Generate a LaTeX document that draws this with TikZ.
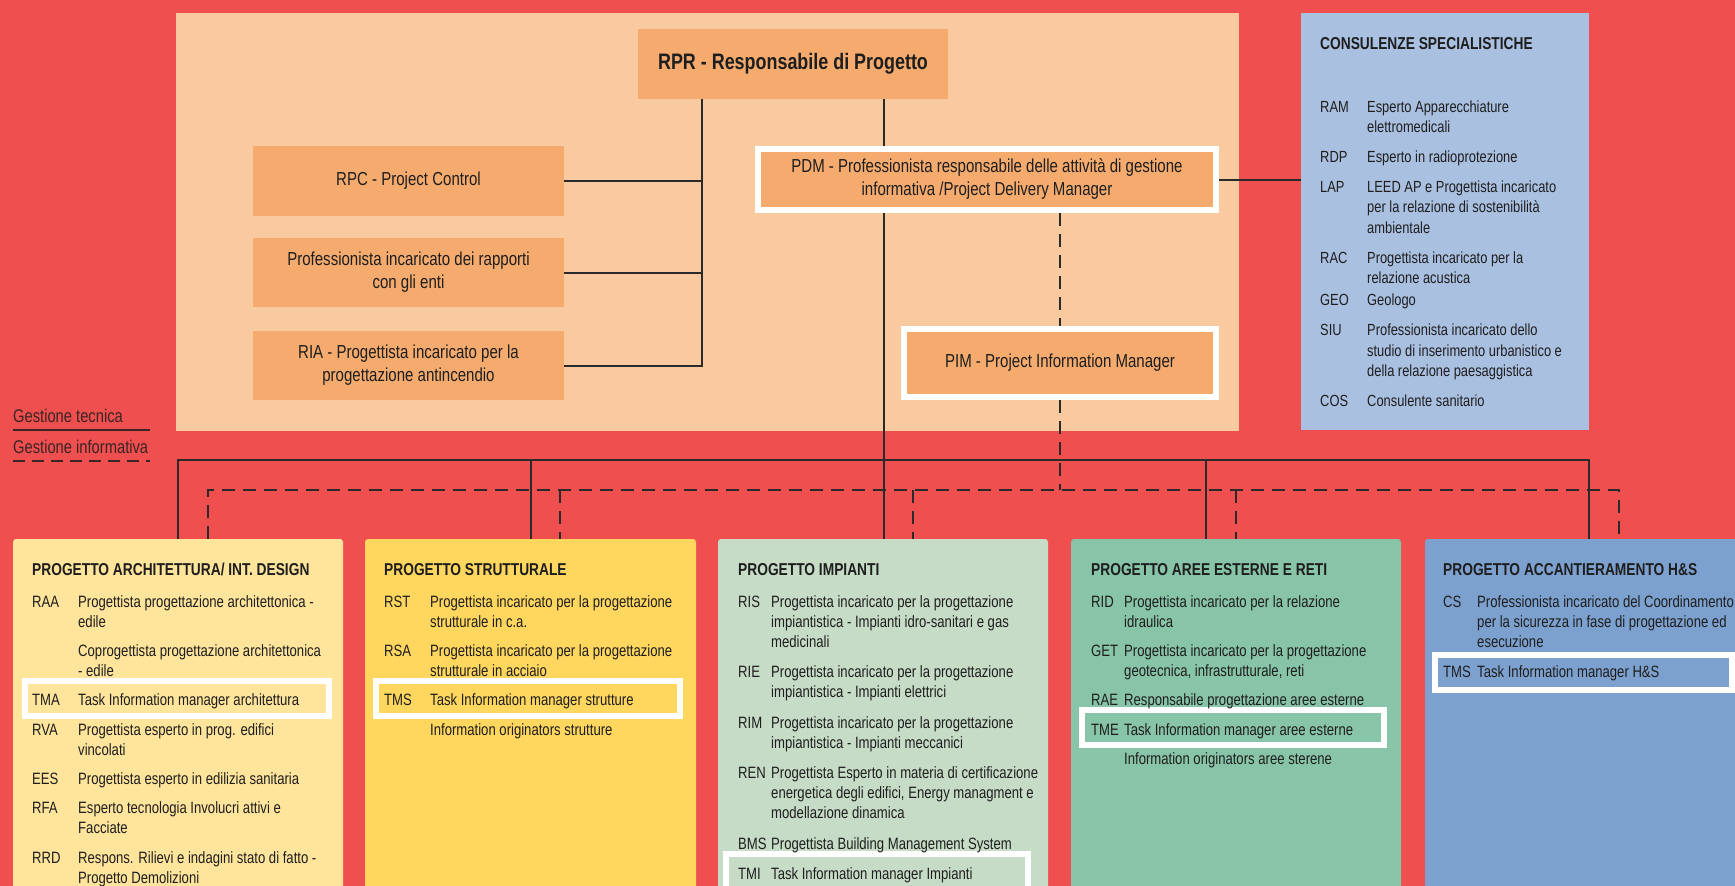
\documentclass[tikz,border=0pt]{standalone}
\usepackage{fontspec}
\setmainfont{Liberation Sans}[FakeStretch=0.8]
\definecolor{bgred}{HTML}{EF4F4F}
\definecolor{peach}{HTML}{F9C9A0}
\definecolor{boxorange}{HTML}{F5AB6E}
\definecolor{consblue}{HTML}{AAC0E1}
\definecolor{archyel}{HTML}{FFE49B}
\definecolor{strutyel}{HTML}{FFD65E}
\definecolor{impgreen}{HTML}{C6DCC7}
\definecolor{areegreen}{HTML}{88C4A7}
\definecolor{hsblue}{HTML}{7DA1CF}
\definecolor{ink}{HTML}{1E1E1E}
\definecolor{lineink}{HTML}{2A2A2A}
\definecolor{legendink}{HTML}{3A2424}
\newcommand\itemlist[2]{\begin{tabular}[t]{@{}p{#1}@{}l@{}}#2\end{tabular}}
\begin{document}
\begin{tikzpicture}[x=1pt,y=-1pt,
  box/.style={rectangle, inner sep=0pt, outer sep=0pt},
  orangebox/.style={box, fill=boxorange, text=ink, font=\fontsize{18.8}{23}\selectfont, align=center},
  framed/.style={orangebox, draw=white, line width=6pt, outer sep=3pt},
  group/.style={box, rounded corners=3pt},
  hl/.style={draw=white, line width=6pt},
  conn/.style={draw=lineink, line width=2pt},
  info/.style={conn, dash pattern=on 13pt off 8pt},
  head/.style={anchor=base west, inner sep=0pt, text=ink, font=\fontsize{17.2}{20}\selectfont\bfseries},
  lst/.style={anchor=base west, inner sep=0pt, text=ink, font=\fontsize{16.4}{20.2}\selectfont},
  clst/.style={anchor=base west, inner sep=0pt, text=ink, font=\fontsize{16.1}{20.7}\selectfont},
  legend/.style={anchor=base west, inner sep=0pt, text=legendink, font=\fontsize{18.4}{22}\selectfont}
]
\useasboundingbox (0,0) rectangle (1735,886);
\clip (0,0) rectangle (1735,886);
\fill[bgred] (0,0) rectangle (1735,886);

% upper panels
\node[box, fill=peach, minimum width=1063pt, minimum height=418pt] (panel) at (707.5,222) {};
\node[box, fill=consblue, minimum width=288pt, minimum height=417pt] (cons) at (1445,221.5) {};

% top boxes
\node[orangebox, minimum width=310pt, minimum height=70pt, font=\fontsize{22.4}{26}\selectfont\bfseries] (rpr) at (793,64) {RPR - Responsabile di Progetto};
\node[orangebox, minimum width=311pt, minimum height=70pt] (rpc) at (408.5,181) {RPC - Project Control};
\node[orangebox, minimum width=311pt, minimum height=69pt] (prof) at (408.5,272.5) {Professionista incaricato dei rapporti\\con gli enti};
\node[orangebox, minimum width=311pt, minimum height=69pt] (ria) at (408.5,365.5) {RIA - Progettista incaricato per la\\progettazione antincendio};
\node[framed, minimum width=458pt, minimum height=61pt] (pdm) at (987,179.5) {PDM - Professionista responsabile delle attività di gestione\\informativa /Project Delivery Manager};
\node[framed, minimum width=312pt, minimum height=68pt] (pim) at (1060,363) {PIM - Project Information Manager};

% consulenze text
\node[head] (consh) at (1320,49) {CONSULENZE SPECIALISTICHE};
\node[clst] (consl) at (1320,112) {\itemlist{47pt}{%
RAM & Esperto Apparecchiature\\
 & elettromedicali\\[9pt]
RDP & Esperto in radioprotezione\\[9pt]
LAP & LEED AP e Progettista incaricato\\
 & per la relazione di sostenibilità\\
 & ambientale\\[9pt]
RAC & Progettista incaricato per la\\
 & relazione acustica\\[1pt]
GEO & Geologo\\[9pt]
SIU & Professionista incaricato dello\\
 & studio di inserimento urbanistico e\\
 & della relazione paesaggistica\\[9pt]
COS & Consulente sanitario}};

% bottom group boxes
\node[group, fill=archyel, minimum width=330pt, minimum height=361pt] (arch) at (178,719.5) {};
\node[group, fill=strutyel, minimum width=331pt, minimum height=361pt] (strut) at (530.5,719.5) {};
\node[group, fill=impgreen, minimum width=330pt, minimum height=361pt] (imp) at (883,719.5) {};
\node[group, fill=areegreen, minimum width=330pt, minimum height=361pt] (aree) at (1236,719.5) {};
\node[group, fill=hsblue, minimum width=335pt, minimum height=361pt] (hs) at (1592.5,719.5) {};

% highlight frames
\draw[hl] (25,681) rectangle (329,716);
\draw[hl] (376,681) rectangle (680,716);
\draw[hl] (726,854) rectangle (1028,900);
\draw[hl] (1082,710) rectangle (1384,745);
\draw[hl] (1435,655) rectangle (1732,690);

% headers
\node[head] (archh) at (32,575) {PROGETTO ARCHITETTURA/ INT. DESIGN};
\node[head] (struth) at (384,575) {PROGETTO STRUTTURALE};
\node[head] (imph) at (738,575) {PROGETTO IMPIANTI};
\node[head] (areeh) at (1091,575) {PROGETTO AREE ESTERNE E RETI};
\node[head] (hsh) at (1443,575) {PROGETTO ACCANTIERAMENTO H\&S};

% lists
\node[lst] (archl) at (32,607) {\itemlist{46pt}{%
RAA & Progettista progettazione architettonica -\\
 & edile\\[9pt]
 & Coprogettista progettazione architettonica\\
 & - edile\\[9pt]
TMA & Task Information manager architettura\\[9pt]
RVA & Progettista esperto in prog. edifici\\
 & vincolati\\[9pt]
EES & Progettista esperto in edilizia sanitaria\\[9pt]
RFA & Esperto tecnologia Involucri attivi e\\
 & Facciate\\[9pt]
RRD & Respons. Rilievi e indagini stato di fatto -\\
 & Progetto Demolizioni}};
\node[lst] (strutl) at (384,607) {\itemlist{46pt}{%
RST & Progettista incaricato per la progettazione\\
 & strutturale in c.a.\\[9pt]
RSA & Progettista incaricato per la progettazione\\
 & strutturale in acciaio\\[9pt]
TMS & Task Information manager strutture\\[9pt]
 & Information originators strutture}};
\node[lst] (impl) at (738,607) {\itemlist{33pt}{%
RIS & Progettista incaricato per la progettazione\\
 & impiantistica - Impianti idro-sanitari e gas\\
 & medicinali\\[10pt]
RIE & Progettista incaricato per la progettazione\\
 & impiantistica - Impianti elettrici\\[10pt]
RIM & Progettista incaricato per la progettazione\\
 & impiantistica - Impianti meccanici\\[10pt]
REN & Progettista Esperto in materia di certificazione\\
 & energetica degli edifici, Energy managment e\\
 & modellazione dinamica\\[10pt]
BMS & Progettista Building Management System\\[10pt]
TMI & Task Information manager Impianti}};
\node[lst] (areel) at (1091,607) {\itemlist{33pt}{%
RID & Progettista incaricato per la relazione\\
 & idraulica\\[9pt]
GET & Progettista incaricato per la progettazione\\
 & geotecnica, infrastrutturale, reti\\[9pt]
RAE & Responsabile progettazione aree esterne\\[9pt]
TME & Task Information manager aree esterne\\[9pt]
 & Information originators aree sterene}};
\node[lst] (hsl) at (1443,607) {\itemlist{34pt}{%
CS & Professionista incaricato del Coordinamento\\
 & per la sicurezza in fase di progettazione ed\\
 & esecuzione\\[10pt]
TMS & Task Information manager H\&S}};

% legend
\node[legend] (lgt) at (13,422) {Gestione tecnica};
\node[legend] (lgi) at (13,453) {Gestione informativa};
\draw[draw=legendink, line width=2pt] (13,430) -- (150,430);
\draw[draw=legendink, line width=2pt, dash pattern=on 12pt off 7pt] (13,461) -- (150,461);

% coordinates for connector junctions
\coordinate (lsp) at (702,365.5);
\coordinate (jA) at (178,460);
\coordinate (jS) at (531,460);
\coordinate (jI) at (884,460);
\coordinate (jE) at (1206,460);
\coordinate (jH) at (1589,460);
\coordinate (dA) at (208,490);
\coordinate (dS) at (560,490);
\coordinate (dI) at (913,490);
\coordinate (dE) at (1236,490);
\coordinate (dH) at (1619,490);

% solid connectors (gestione tecnica)
\draw[conn] (rpr.south -| lsp) -- (lsp) -- (ria.east);
\draw[conn] (rpc.east) -- (rpc.east -| lsp);
\draw[conn] (prof.east) -- (prof.east -| lsp);
\draw[conn] (rpr.south -| jI) -- (pdm.north -| jI);
\draw[conn] (pdm.south -| jI) -- (jI |- imp.north);
\draw[conn] (pdm.east) -- (pdm.east -| cons.west);
\draw[conn] (jA |- arch.north) -- (jA) -- (jH) -- (jH |- hs.north);
\draw[conn] (jS) -- (jS |- strut.north);
\draw[conn] (jE) -- (jE |- aree.north);

% dashed connectors (gestione informativa)
\draw[info] (pdm.south -| pim.north) -- (pim.north);
\draw[info] (pim.south) -- (pim.south |- dA);
\draw[info] (dA |- arch.north) -- (dA) -- (dH) -- (dH |- hs.north);
\draw[info] (dS) -- (dS |- strut.north);
\draw[info] (dI) -- (dI |- imp.north);
\draw[info] (dE) -- (dE |- aree.north);
\end{tikzpicture}
\end{document}
